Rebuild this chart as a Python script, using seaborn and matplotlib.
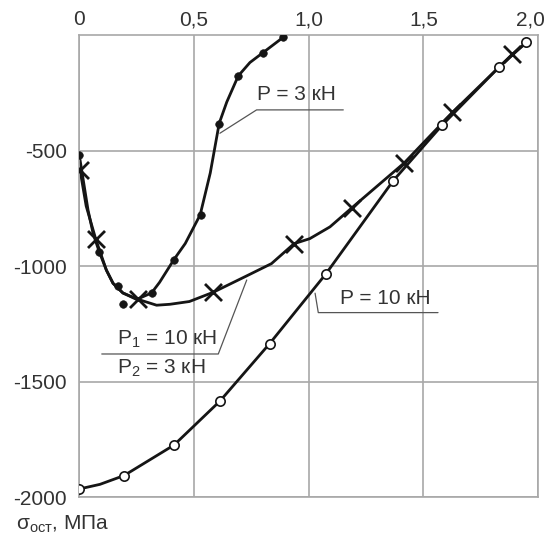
import numpy as np
import pandas as pd
import matplotlib
matplotlib.use('Agg')
import matplotlib.pyplot as plt
import matplotlib.transforms as mtransforms
import seaborn as sns

sns.set_style('white')
plt.rcParams['font.family'] = ['Liberation Sans', 'DejaVu Sans']
plt.rcParams['mathtext.fontset'] = 'custom'
plt.rcParams['mathtext.rm'] = 'Liberation Sans'
plt.rcParams['mathtext.it'] = 'Liberation Sans'

# P = 3 kN (filled dots)
p3_x = [0, 0.087, 0.17, 0.19, 0.315, 0.415, 0.53, 0.61, 0.693, 0.80, 0.889]
p3_y = [-520, -938, -1085, -1165, -1116, -972, -778, -383, -177, -77, -10]
p3_curve_x = [0, 0.017, 0.038, 0.06, 0.087, 0.118, 0.147, 0.19, 0.25, 0.315, 0.35,
              0.413, 0.462, 0.527, 0.571, 0.61, 0.643, 0.693, 0.744, 0.80, 0.889]
p3_curve_y = [-520, -626, -757, -858, -938, -1017, -1074, -1116, -1144, -1116, -1070,
              -971, -902, -778, -597, -382, -290, -177, -119, -77, -10]

# P1 = 10 kN / P2 = 3 kN (crosses)
p12_x = [0.003, 0.072, 0.257, 0.584, 0.936, 1.188, 1.416, 1.627, 1.887]
p12_y = [-583, -884, -1144, -1113, -903, -748, -554, -335, -84]
p12_curve_x = [0.003, 0.03, 0.072, 0.118, 0.147, 0.19, 0.257, 0.337, 0.395, 0.48, 0.584,
               0.73, 0.838, 0.936, 1.005, 1.093, 1.188, 1.416, 1.627, 1.887, 1.95]
p12_curve_y = [-583, -740, -884, -1017, -1074, -1116, -1144, -1169, -1165, -1153, -1113,
               -1042, -989, -903, -881, -830, -748, -554, -335, -84, -32]

# P = 10 kN (open circles)
p10_x = [0, 0.195, 0.413, 0.613, 0.83, 1.074, 1.369, 1.581, 1.829, 1.949]
p10_y = [-1964, -1906, -1774, -1584, -1335, -1035, -630, -391, -140, -32]
p10_curve_x = [0, 0.09, 0.195, 0.413, 0.613, 0.83, 1.074, 1.369, 1.581, 1.829, 1.949]
p10_curve_y = [-1964, -1944, -1906, -1774, -1584, -1335, -1035, -630, -391, -140, -32]

x_ticks = [0, 0.5, 1.0, 1.5, 2.0]
x_labels = ['0', '0,5', '1,0', '1,5', '2,0']
y_ticks = [-500, -1000, -1500, -2000]
y_labels = ['-500', '-1000', '-1500', '-2000']

line_col = '#151515'
grid_col = '#a8a8a8'
text_col = '#333333'

fig = plt.figure(figsize=(5.5, 5.37), dpi=100)
W, H = 550, 537
ax = fig.add_axes([79.3 / W, 1 - 497.3 / H, (538 - 79.3) / W, (497.3 - 35) / H])

sns.lineplot(x=p3_curve_x, y=p3_curve_y, sort=False, estimator=None, color=line_col, lw=2.0, ax=ax)
sns.lineplot(x=p12_curve_x, y=p12_curve_y, sort=False, estimator=None, color=line_col, lw=2.0, ax=ax)
sns.lineplot(x=p10_curve_x, y=p10_curve_y, sort=False, estimator=None, color=line_col, lw=2.0, ax=ax)

sns.scatterplot(x=p3_x, y=p3_y, marker='o', s=30, color=line_col, edgecolor=line_col, ax=ax, zorder=5)
sns.scatterplot(x=p12_x, y=p12_y, marker='x', s=150, color=line_col, linewidth=2.0, ax=ax, zorder=5)
sns.scatterplot(x=p10_x, y=p10_y, marker='o', s=45, facecolor='white', edgecolor=line_col,
                linewidth=1.2, ax=ax, zorder=6)

ax.set_xlim(0, 2.0)
ax.set_ylim(-2000, 0)
ax.xaxis.tick_top()
ax.set_xticks(x_ticks)
ax.set_xticklabels(x_labels)
ax.set_yticks(y_ticks)
ax.set_yticklabels(y_labels)
ax.tick_params(axis='x', length=0, pad=4, labelsize=15, labelcolor=text_col)
ax.tick_params(axis='y', length=0, pad=9, labelsize=15, labelcolor=text_col)
ax.grid(True, color=grid_col, lw=1.2)
for s in ax.spines.values():
    s.set_color(grid_col)
    s.set_linewidth(1.2)
ax.set_xlabel('')
ax.set_ylabel('')

# keep the last top label inside the picture
last = ax.get_xticklabels()[-1]
last.set_transform(last.get_transform() + mtransforms.ScaledTranslation(-8 / 100, 0, fig.dpi_scale_trans))

# annotations
lead = dict(color='#555555', lw=0.9)
ax.text(0.773, -258, 'P = 3 кН', fontsize=15, color=text_col, ha='left', va='center')
ax.plot([0.613, 0.773, 1.151], [-425, -324, -324], **lead)

ax.text(1.137, -1140, 'P = 10 кН', fontsize=15, color=text_col, ha='left', va='center')
ax.plot([1.028, 1.042, 1.564], [-1117, -1201, -1201], **lead)

ax.text(0.165, -1318, 'P$_1$ = 10 кН', fontsize=15, color=text_col, ha='left', va='center')
ax.text(0.165, -1440, 'P$_2$ = 3 кН', fontsize=15, color=text_col, ha='left', va='center')
ax.plot([0.73, 0.606, 0.098], [-1060, -1380, -1380], **lead)

fig.text(16 / W, 1 - 524 / H, 'σ$_{\\mathregular{ост}}$, МПа', fontsize=15, color=text_col,
         ha='left', va='center')

fig.savefig('out.png', dpi=100)
